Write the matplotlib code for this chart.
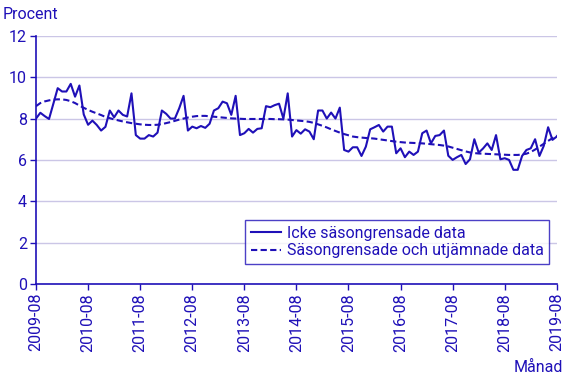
import numpy as np
import pandas as pd
import matplotlib
matplotlib.use('Agg')
import matplotlib.pyplot as plt

plt.rcParams['font.family'] = ['Roboto', 'DejaVu Sans']

# månader 2009-08 .. 2019-08
manader = pd.period_range('2009-08', '2019-08', freq='M').strftime('%Y-%m').tolist()

# Icke säsongrensade data
icke_sasong = [8.0, 8.28, 8.12, 7.98, 8.72, 9.47, 9.31, 9.31, 9.68, 9.06, 9.6, 8.2,
               7.7, 7.9, 7.69, 7.42, 7.6, 8.39, 8.06, 8.39, 8.18, 8.1, 9.22, 7.2,
               7.03, 7.03, 7.2, 7.13, 7.32, 8.39, 8.23, 8.0, 8.0, 8.5, 9.1, 7.42,
               7.61, 7.53, 7.64, 7.55, 7.75, 8.39, 8.5, 8.82, 8.74, 8.18, 9.1, 7.2,
               7.29, 7.5, 7.32, 7.5, 7.53, 8.6, 8.55, 8.65, 8.72, 8.0, 9.22, 7.13,
               7.44, 7.27, 7.48, 7.37, 7.0, 8.39, 8.39, 8.0, 8.29, 8.0, 8.53, 6.48,
               6.4, 6.61, 6.61, 6.19, 6.64, 7.48, 7.58, 7.69, 7.37, 7.61, 7.61, 6.32,
               6.56, 6.13, 6.4, 6.24, 6.4, 7.29, 7.42, 6.8, 7.16, 7.2, 7.42, 6.2,
               6.0, 6.13, 6.24, 5.8, 6.03, 7.0, 6.35, 6.55, 6.8, 6.48, 7.2, 6.03,
               6.08, 6.0, 5.52, 5.52, 6.19, 6.48, 6.56, 7.0, 6.19, 6.68, 7.58, 6.97,
               7.13]

# Säsongrensade och utjämnade data
utjamnad = [8.6, 8.75, 8.83, 8.88, 8.92, 8.93, 8.93, 8.9, 8.84, 8.75, 8.63, 8.52,
            8.42, 8.33, 8.25, 8.17, 8.08, 8.02, 7.96, 7.91, 7.86, 7.82, 7.78, 7.75,
            7.72, 7.7, 7.69, 7.69, 7.7, 7.73, 7.78, 7.83, 7.89, 7.95, 8.0, 8.05,
            8.09, 8.12, 8.13, 8.13, 8.11, 8.09, 8.07, 8.05, 8.03, 8.01, 8.0, 7.99,
            7.98, 7.98, 7.98, 7.98, 7.98, 7.98, 7.98, 7.97, 7.97, 7.96, 7.95, 7.93,
            7.91, 7.89, 7.87, 7.84, 7.79, 7.72, 7.65, 7.57, 7.48, 7.4, 7.32, 7.25,
            7.19, 7.13, 7.1, 7.08, 7.06, 7.05, 7.03, 7.0, 6.97, 6.94, 6.91, 6.88,
            6.86, 6.84, 6.83, 6.82, 6.81, 6.8, 6.78, 6.76, 6.74, 6.72, 6.69, 6.65,
            6.59, 6.53, 6.47, 6.41, 6.36, 6.33, 6.31, 6.3, 6.29, 6.28, 6.27, 6.26,
            6.25, 6.24, 6.24, 6.24, 6.26, 6.3, 6.38, 6.5, 6.64, 6.78, 6.92, 7.05,
            7.18]

etiketter = ['Icke säsongrensade data', 'Säsongrensade och utjämnade data']

blue = '#1f10b8'
grid_c = '#cbc6e6'
fs = 11.5

fig = plt.figure(figsize=(5.67, 3.78), dpi=100)
ax = fig.add_axes([0.0635, 0.249, 0.9185, 0.656])

x = np.arange(len(manader))
ax.plot(x, icke_sasong, color=blue, lw=1.5, label=etiketter[0])
ax.plot(x, utjamnad, color=blue, lw=1.5, linestyle=(0, (3, 1.6)), label=etiketter[1])

ax.set_xlim(0, len(manader) - 1)
ax.set_ylim(0, 12)
ax.set_yticks(range(0, 13, 2))
ticks = list(range(0, len(manader), 12))
ax.set_xticks(ticks)
ax.set_xticklabels([manader[i] for i in ticks], rotation=90)

ax.grid(axis='y', color=grid_c, lw=1)
ax.set_axisbelow(True)
for s in ['top', 'right']:
    ax.spines[s].set_visible(False)
for s in ['left', 'bottom']:
    ax.spines[s].set_color(blue)
    ax.spines[s].set_linewidth(1.2)
ax.tick_params(colors=blue, labelsize=fs, length=4.5, width=1)
ax.tick_params(axis='x', pad=2)
ax.tick_params(axis='y', pad=2)

fig.text(0.005, 0.962, 'Procent', color=blue, fontsize=fs, ha='left', va='center')
fig.text(0.993, 0.027, 'Månad', color=blue, fontsize=fs, ha='right', va='center')

leg = ax.legend(loc='lower right', bbox_to_anchor=(0.985, 0.081), fontsize=fs,
                frameon=True, fancybox=False, handlelength=1.9, borderpad=0.35,
                labelspacing=0.15, handletextpad=0.35, borderaxespad=0)
leg.get_frame().set_edgecolor(blue)
leg.get_frame().set_linewidth(1)
for t in leg.get_texts():
    t.set_color(blue)

fig.savefig('out.png', dpi=100)
